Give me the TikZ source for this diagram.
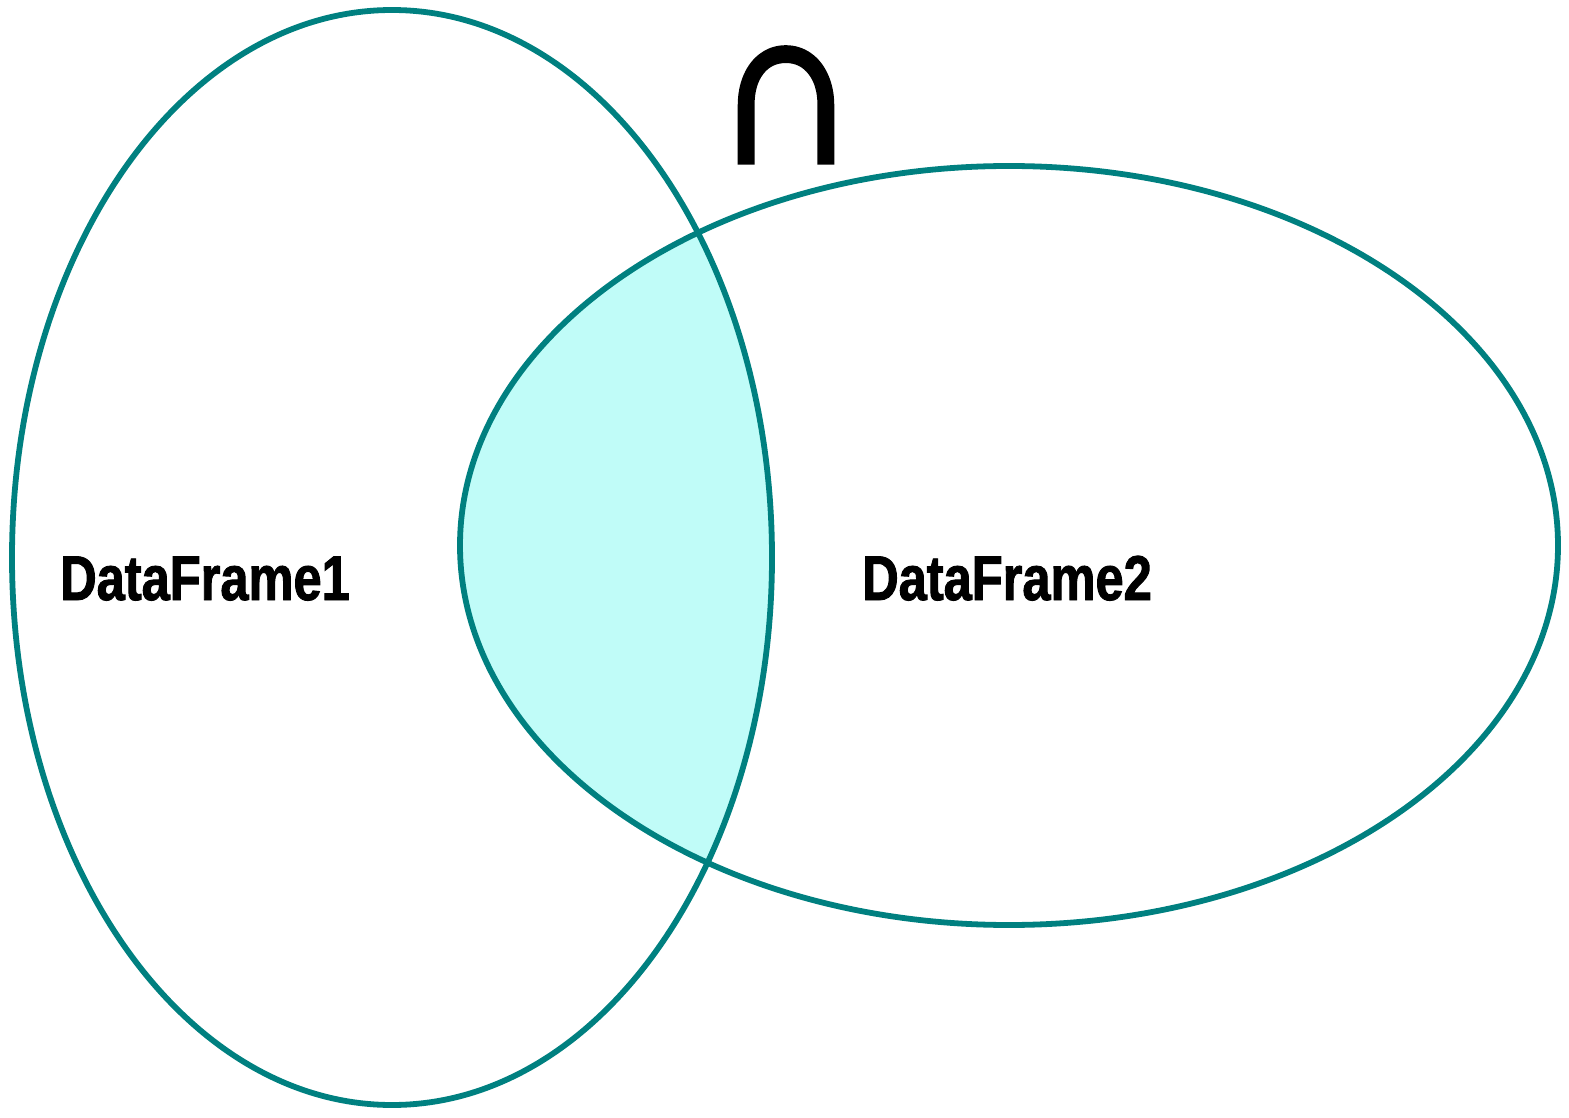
\documentclass[tikz,border=0pt]{standalone}
\usepackage{fontspec}
\setmainfont{Liberation Sans}
\newfontfamily\labelfont[FakeStretch=0.8,BoldFeatures={FakeBold=1.5}]{Liberation Sans}
\newfontfamily\opfont[FakeStretch=0.9,FakeBold=3]{Liberation Sans}
\usepackage{tikz}
\usetikzlibrary{calc,positioning}
\definecolor{setline}{RGB}{0,128,128}
\definecolor{setfill}{RGB}{192,252,248}
\tikzset{
    x=0.02cm, y=-0.02cm,
    set/.style = {draw=setline, line width=3.3pt},
    dflabel/.style = {inner sep=0pt, anchor=base, font=\labelfont\fontsize{36}{40}\selectfont\bfseries},
    op/.style = {inner sep=0pt, anchor=base, text height=65pt, text depth=0pt,
        font=\opfont\fontsize{127}{130}\selectfont}
}
\begin{document}
\begin{tikzpicture}
    \useasboundingbox (0,0) rectangle (1569,1118);
    % overlap
    \begin{scope}
        \clip (392,557.5) ellipse [x radius=380, y radius=547.5];
        \fill[setfill] (1009,545.5) ellipse [x radius=549, y radius=379.5];
    \end{scope}
    \draw[set] (392,557.5) ellipse [x radius=380, y radius=547.5];
    \draw[set] (1009,545.5) ellipse [x radius=549, y radius=379.5];

    \node[dflabel] (a) at (205,600) {DataFrame1};
    \node[dflabel] (b) at (1007,600) {DataFrame2};
    \node[op] (cap) at (786,161) {∩};
\end{tikzpicture}
\end{document}
